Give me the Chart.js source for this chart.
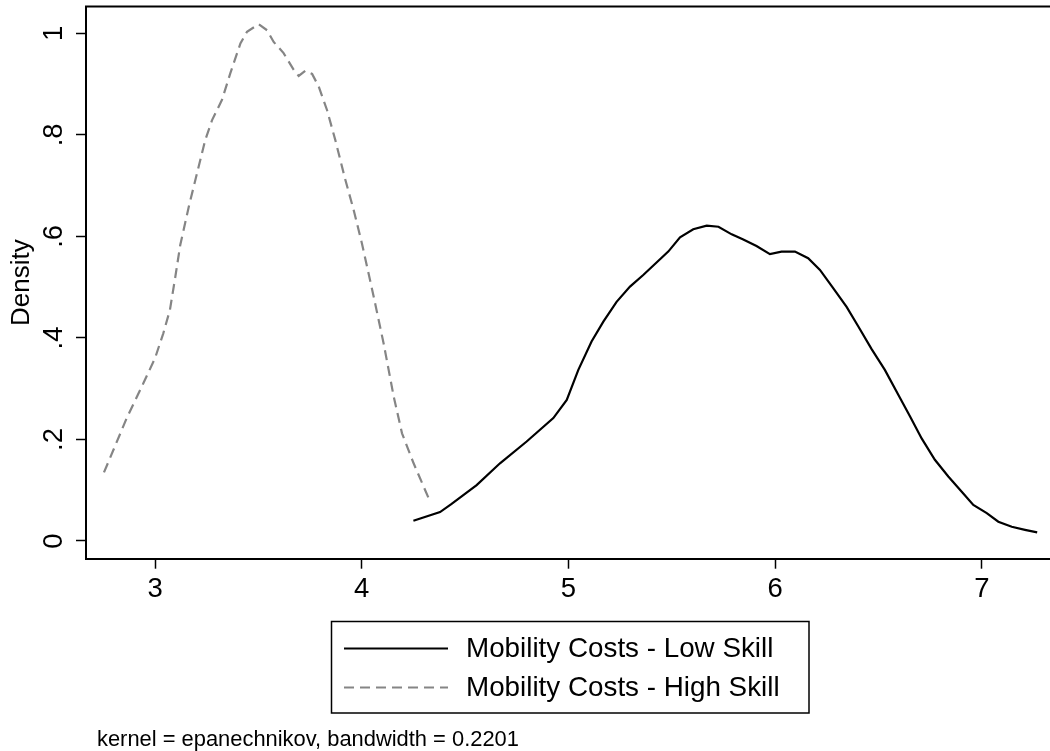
<!DOCTYPE html>
<html>
<head>
<meta charset="utf-8">
<script src="https://cdn.jsdelivr.net/npm/chart.js@4.4.1/dist/chart.umd.min.js"></script>
<style>
  html, body { margin: 0; padding: 0; background: #ffffff; }
  #wrap { width: 1050px; height: 751px; }
</style>
</head>
<body>
<div id="wrap"><canvas id="c" width="1050" height="751"></canvas></div>
<script>
// Kernel density estimates of mobility costs, by skill group
const lowSkillX = [4.250, 4.379, 4.435, 4.556, 4.669, 4.798, 4.927, 4.992, 5.048, 5.112,
                   5.169, 5.233, 5.298, 5.362, 5.483, 5.540, 5.604, 5.669, 5.726, 5.790,
                   5.846, 5.910, 5.975, 6.031, 6.096, 6.160, 6.217, 6.281, 6.346, 6.402,
                   6.467, 6.531, 6.596, 6.653, 6.709, 6.773, 6.838, 6.903, 6.959, 7.024,
                   7.080, 7.145, 7.209, 7.268];
const lowSkillY = [0.040, 0.057, 0.073, 0.110, 0.153, 0.196, 0.242, 0.278, 0.337, 0.393,
                   0.432, 0.471, 0.501, 0.524, 0.570, 0.598, 0.614, 0.621, 0.619, 0.604,
                   0.594, 0.581, 0.565, 0.570, 0.570, 0.557, 0.534, 0.498, 0.461, 0.423,
                   0.378, 0.337, 0.288, 0.245, 0.202, 0.160, 0.127, 0.097, 0.071, 0.055,
                   0.038, 0.028, 0.022, 0.017];

const highSkillX = [2.753, 2.863, 2.944, 3.000, 3.040, 3.072, 3.098, 3.122, 3.163, 3.203,
                    3.243, 3.276, 3.324, 3.364, 3.413, 3.445, 3.501, 3.542, 3.574, 3.622,
                    3.671, 3.695, 3.727, 3.760, 3.792, 3.832, 3.872, 3.921, 3.961, 4.001,
                    4.058, 4.106, 4.155, 4.195, 4.251, 4.324];
const highSkillY = [0.135, 0.242, 0.311, 0.360, 0.409, 0.455, 0.520, 0.583, 0.658, 0.724,
                    0.790, 0.829, 0.869, 0.921, 0.980, 1.003, 1.018, 1.006, 0.983, 0.961,
                    0.928, 0.916, 0.926, 0.920, 0.895, 0.849, 0.790, 0.711, 0.652, 0.586,
                    0.481, 0.389, 0.284, 0.212, 0.153, 0.084];

const xTicks = [3, 4, 5, 6, 7];
const xTickLabels = ['3', '4', '5', '6', '7'];
const yTicks = [0, 0.2, 0.4, 0.6, 0.8, 1];
const yTickLabels = ['0', '.2', '.4', '.6', '.8', '1'];
const seriesNames = ['Mobility Costs - Low Skill', 'Mobility Costs - High Skill'];
const yAxisTitle = 'Density';
const noteText = 'kernel = epanechnikov, bandwidth = 0.2201';

const FONT = '"Liberation Sans", Arial, Helvetica, sans-serif';

const toPoints = (xs, ys) => xs.map((x, i) => ({ x: x, y: ys[i] }));

// Top edge of the plot frame
const frameTop = {
  id: 'frameTop',
  afterDraw(chart) {
    const { ctx, chartArea } = chart;
    ctx.save();
    ctx.strokeStyle = '#000';
    ctx.lineWidth = 2;
    ctx.beginPath();
    ctx.moveTo(chartArea.left - 1, chartArea.top);
    ctx.lineTo(chartArea.right, chartArea.top);
    ctx.stroke();
    ctx.restore();
  }
};

// Boxed legend below the axis plus the kernel note
const boxLegend = {
  id: 'boxLegend',
  afterDraw(chart) {
    const ctx = chart.ctx;
    const box = { x: 331.5, y: 621.5, w: 477.5, h: 91.5 };
    const rows = [648.5, 687.5];
    ctx.save();
    ctx.strokeStyle = '#000';
    ctx.lineWidth = 1.5;
    ctx.strokeRect(box.x, box.y, box.w, box.h);
    chart.data.datasets.forEach((ds, i) => {
      const y = rows[i];
      ctx.save();
      ctx.strokeStyle = ds.borderColor;
      ctx.lineWidth = ds.borderWidth;
      ctx.setLineDash(ds.borderDash || []);
      ctx.beginPath();
      ctx.moveTo(344, y);
      ctx.lineTo(448, y);
      ctx.stroke();
      ctx.restore();
      ctx.fillStyle = '#000';
      ctx.font = '27.8px ' + FONT;
      ctx.textAlign = 'left';
      ctx.textBaseline = 'middle';
      ctx.fillText(ds.label, 466, y + 1);
    });
    ctx.font = '21.9px ' + FONT;
    ctx.textBaseline = 'alphabetic';
    ctx.fillText(noteText, 97, 745.5);
    ctx.restore();
  }
};

new Chart(document.getElementById('c'), {
  type: 'line',
  data: {
    datasets: [
      {
        label: seriesNames[0],
        data: toPoints(lowSkillX, lowSkillY),
        borderColor: '#000000',
        borderWidth: 2.2,
        pointRadius: 0,
        tension: 0,
        fill: false
      },
      {
        label: seriesNames[1],
        data: toPoints(highSkillX, highSkillY),
        borderColor: '#858585',
        borderWidth: 2.2,
        borderDash: [10, 6],
        pointRadius: 0,
        tension: 0,
        fill: false
      }
    ]
  },
  options: {
    responsive: false,
    animation: false,
    devicePixelRatio: 1,
    layout: { autoPadding: false, padding: { top: 6.5, left: 0, right: 0, bottom: 0 } },
    plugins: {
      legend: { display: false },
      tooltip: { enabled: false }
    },
    scales: {
      x: {
        type: 'linear',
        min: 2.666,
        max: 7.33,
        afterBuildTicks: (s) => { s.ticks = xTicks.map(v => ({ value: v })); },
        afterFit: (s) => {
          s.height = 751 - 558.7;
          s.paddingLeft = 0; s.paddingRight = 0; s.paddingTop = 0; s.paddingBottom = 0;
        },
        ticks: {
          color: '#000',
          font: { family: FONT, size: 27.5 },
          padding: 4,
          autoSkip: false,
          maxRotation: 0,
          callback: (v, i) => xTickLabels[i]
        },
        grid: {
          drawOnChartArea: false,
          drawTicks: true,
          tickLength: 10,
          tickColor: '#000',
          tickWidth: 1.5
        },
        border: { display: true, color: '#000', width: 2 }
      },
      y: {
        type: 'linear',
        min: -0.0349,
        max: 1.0528,
        afterBuildTicks: (s) => { s.ticks = yTicks.map(v => ({ value: v })); },
        afterFit: (s) => {
          s.width = 86;
          s.paddingLeft = 0; s.paddingRight = 0; s.paddingTop = 0; s.paddingBottom = 0;
        },
        ticks: {
          color: '#000',
          font: { family: FONT, size: 27.5 },
          padding: 10.5,
          autoSkip: false,
          minRotation: 90,
          maxRotation: 90,
          crossAlign: 'center',
          callback: (v, i) => yTickLabels[i]
        },
        grid: {
          drawOnChartArea: false,
          drawTicks: true,
          tickLength: 10,
          tickColor: '#000',
          tickWidth: 1.5
        },
        border: { display: true, color: '#000', width: 2 },
        title: {
          display: true,
          text: yAxisTitle,
          color: '#000',
          font: { family: FONT, size: 26, lineHeight: 1.2 },
          padding: { top: 6.5, bottom: 0 }
        }
      }
    }
  },
  plugins: [frameTop, boxLegend]
});
</script>
</body>
</html>
